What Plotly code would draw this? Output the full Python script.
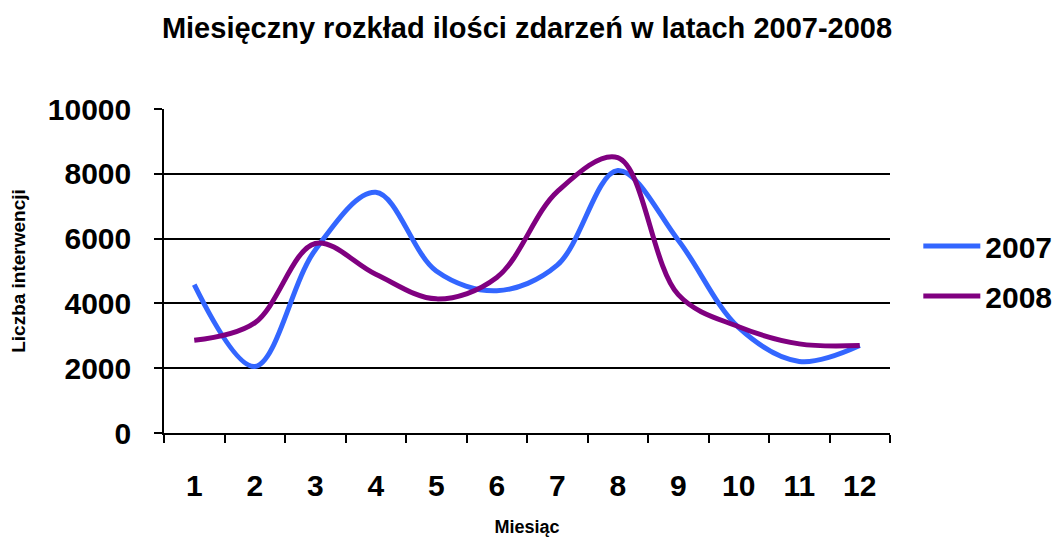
import plotly.graph_objects as go

months = ["1", "2", "3", "4", "5", "6", "7", "8", "9", "10", "11", "12"]
values_2007 = [4580, 2050, 5650, 7430, 5000, 4390, 5180, 8100, 5950, 3250, 2210, 2700]
values_2008 = [2860, 3400, 5850, 4900, 4140, 4800, 7450, 8500, 4270, 3280, 2750, 2700]
y_ticks = [0, 2000, 4000, 6000, 8000, 10000]
y_tick_text = ["0", "2000", "4000", "6000", "8000", "10000"]

FONT = "Liberation Sans, Arial, sans-serif"

fig = go.Figure()
fig.add_trace(go.Scatter(
    x=months, y=values_2007, name="2007", mode="lines",
    line=dict(color="#3366FF", width=5, shape="spline", smoothing=1.0),
    legendgroup="a",
))
fig.add_trace(go.Scatter(
    x=months, y=values_2008, name="2008", mode="lines",
    line=dict(color="#800080", width=5, shape="spline", smoothing=1.0),
    legendgroup="b",
))

fig.update_layout(
    width=1061, height=540,
    margin=dict(l=164, r=171, t=109, b=107, autoexpand=False),
    paper_bgcolor="white", plot_bgcolor="white",
    font=dict(family=FONT, color="black"),
    title=dict(
        text="Miesięczny rozkład ilości zdarzeń w latach 2007-2008",
        font=dict(family=FONT, size=29, weight="bold", color="black"),
        x=527 / 1061, xanchor="center", y=1 - 28 / 540, yanchor="middle",
    ),
    legend=dict(
        x=1.039, xanchor="left", y=0.5, yanchor="middle",
        font=dict(family=FONT, size=30, weight="bold", color="black"),
        tracegroupgap=8, itemwidth=57,
        bgcolor="rgba(0,0,0,0)",
    ),
    xaxis=dict(
        type="category", tickson="boundaries", range=[-0.5, 11.5],
        automargin=False,
        showline=True, linecolor="black", linewidth=1.5,
        ticks="outside", ticklen=8, tickcolor="black", tickwidth=1.5,
        showgrid=False, zeroline=False,
        tickfont=dict(family=FONT, size=30, weight="bold", color="black"),
        ticklabelstandoff=25,
        title=dict(text="Miesiąc", font=dict(family=FONT, size=18, weight="bold", color="black"), standoff=20),
    ),
    yaxis=dict(
        range=[0, 10000], tickvals=y_ticks, ticktext=y_tick_text,
        automargin=False,
        showline=True, linecolor="black", linewidth=1.5,
        ticks="outside", ticklen=8, tickcolor="black", tickwidth=1.5,
        showgrid=True, gridcolor="black", gridwidth=1.5,
        zeroline=False,
        tickfont=dict(family=FONT, size=30, weight="bold", color="black"),
        ticklabelstandoff=17,
        title=dict(text="Liczba interwencji", font=dict(family=FONT, size=19, weight="bold", color="black"), standoff=17),
    ),
)

fig.write_html(
    "out.html",
    config={"displayModeBar": False},
    post_script="document.body.style.margin='0';",
)
